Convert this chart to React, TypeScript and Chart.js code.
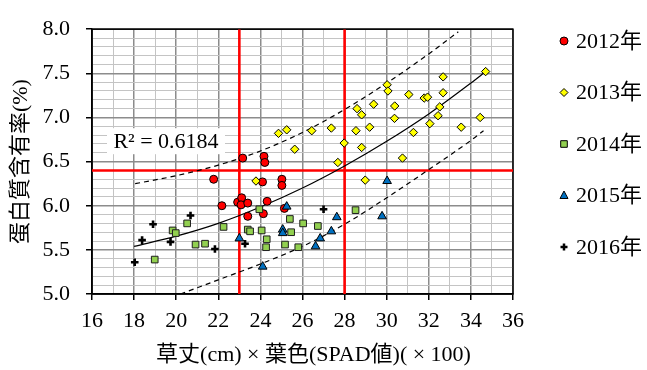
import React, { useEffect, useRef } from 'react';
import { Chart, registerables } from 'chart.js';

Chart.register(...registerables);

const FONT = "'Liberation Serif', 'Times New Roman', 'Noto Sans CJK JP', serif";
const FONT_SIZE = 22;

const seriesLabels = ['2012年', '2013年', '2014年', '2015年', '2016年'];

const x2012 = [23.16, 24.17, 24.21, 21.78, 24.10, 25.02, 25.02, 22.17, 22.92, 23.11, 23.08, 23.40, 24.32, 23.40, 24.14, 25.14];
const y2012 = [6.54, 6.56, 6.49, 6.30, 6.27, 6.30, 6.23, 6.00, 6.04, 6.09, 6.01, 6.03, 6.05, 5.88, 5.91, 5.97];

const x2013 = [34.70, 32.68, 30.02, 30.06, 31.05, 32.68, 31.78, 31.94, 29.38, 28.59, 30.38, 28.81, 32.52, 32.44, 30.37, 34.44, 26.44, 27.37, 28.54, 29.19, 32.05, 33.54, 31.27, 27.98, 28.81, 27.68, 30.75, 24.86, 25.25, 25.63, 28.98, 23.79];
const y2013 = [7.52, 7.46, 7.37, 7.30, 7.26, 7.28, 7.22, 7.23, 7.15, 7.10, 7.13, 7.03, 7.12, 7.02, 6.99, 7.00, 6.85, 6.88, 6.85, 6.89, 6.93, 6.89, 6.83, 6.71, 6.66, 6.49, 6.54, 6.82, 6.86, 6.64, 6.29, 6.28];

const x2014 = [18.98, 19.83, 19.98, 20.52, 20.92, 21.37, 22.25, 23.40, 23.51, 23.95, 24.06, 24.30, 24.27, 25.17, 25.40, 25.46, 25.80, 26.03, 26.73, 28.52];
const y2014 = [5.39, 5.72, 5.69, 5.80, 5.56, 5.57, 5.76, 5.73, 5.71, 5.96, 5.72, 5.62, 5.53, 5.56, 5.85, 5.70, 5.53, 5.80, 5.77, 5.95];

const x2015 = [25.25, 25.06, 25.06, 24.11, 23.00, 30.02, 27.63, 29.78, 27.37, 26.84, 26.62];
const y2015 = [5.99, 5.73, 5.69, 5.31, 5.63, 6.28, 5.87, 5.88, 5.71, 5.63, 5.54];

const x2016 = [18.03, 18.38, 18.90, 19.73, 20.68, 21.84, 23.27, 27.00];
const y2016 = [5.36, 5.61, 5.79, 5.59, 5.89, 5.51, 5.57, 5.96];

// fitted curve and prediction band
const trendX = [18, 20, 22, 24, 26, 28, 30, 32, 34, 34.7];
const trendY = [5.54, 5.655, 5.80, 5.985, 6.20, 6.45, 6.73, 7.04, 7.39, 7.52];
const upperX = [18.05, 20, 22, 24, 26, 28, 30, 32, 33.4];
const upperY = [6.25, 6.34, 6.46, 6.62, 6.83, 7.09, 7.39, 7.72, 7.97];
const lowerX = [20.2, 22, 24, 26, 28, 30, 32, 34, 34.6];
const lowerY = [5.0, 5.16, 5.34, 5.54, 5.79, 6.09, 6.41, 6.74, 6.85];

// red reference lines
const refX = [23, 28];
const refY = [6.4];

const xMin = 16, xMax = 36, yMin = 5, yMax = 8;
const r2Text = 'R² = 0.6184';
const xTitle = '\u3000草丈(cm) × 葉色(SPAD値)( × 100)';
const yTitle = '蛋白質含有率(%)';

const pts = (xs: number[], ys: number[]) => xs.map((x, i) => ({ x, y: ys[i] }));

const markerStyles = [
  { shape: 'circle', fill: '#ff0000' },
  { shape: 'diamond', fill: '#ffff00' },
  { shape: 'square', fill: '#92d050' },
  { shape: 'triangle', fill: '#0070c0' },
  { shape: 'plus', fill: '#000000' },
];

function drawMarker(ctx: CanvasRenderingContext2D, shape: string, fill: string, x: number, y: number) {
  ctx.save();
  ctx.fillStyle = fill;
  ctx.strokeStyle = '#000';
  ctx.lineWidth = 1;
  ctx.beginPath();
  if (shape === 'circle') {
    ctx.arc(x, y, 4, 0, Math.PI * 2);
  } else if (shape === 'diamond') {
    ctx.moveTo(x - 4, y); ctx.lineTo(x, y - 4); ctx.lineTo(x + 4, y); ctx.lineTo(x, y + 4); ctx.closePath();
  } else if (shape === 'square') {
    ctx.rect(x - 3.3, y - 3.3, 6.6, 6.6);
  } else if (shape === 'triangle') {
    ctx.moveTo(x, y - 4.5); ctx.lineTo(x + 4, y + 3); ctx.lineTo(x - 4, y + 3); ctx.closePath();
  }
  if (shape === 'plus') {
    ctx.lineWidth = 2.5;
    ctx.moveTo(x - 3.5, y); ctx.lineTo(x + 3.5, y);
    ctx.moveTo(x, y - 3.5); ctx.lineTo(x, y + 3.5);
    ctx.stroke();
  } else {
    ctx.fill();
    ctx.stroke();
  }
  ctx.restore();
}

const framePlugin = {
  id: 'frameAndLabel',
  beforeDatasetsDraw(chart: any) {
    const { ctx, chartArea: a } = chart;
    ctx.save();
    // R² label box
    const bx = a.left + 15, by = a.top + 99, bw = 118, bh = 26;
    ctx.fillStyle = '#fff';
    ctx.fillRect(bx, by, bw, bh);
    ctx.fillStyle = '#000';
    ctx.font = `${FONT_SIZE}px ${FONT}`;
    ctx.textAlign = 'center';
    ctx.textBaseline = 'middle';
    ctx.fillText(r2Text, bx + bw / 2, by + bh / 2 + 1);
    // frame
    ctx.strokeStyle = '#000';
    ctx.lineWidth = 1.5;
    ctx.strokeRect(a.left, a.top, a.right - a.left, a.bottom - a.top);
    ctx.restore();
  },
  afterDraw(chart: any) {
    const { ctx, chartArea: a } = chart;
    ctx.save();
    ctx.font = `${FONT_SIZE}px ${FONT}`;
    ctx.textAlign = 'left';
    ctx.textBaseline = 'middle';
    const mx = a.right + 51;
    seriesLabels.forEach((label, i) => {
      const y = 41 + i * 51.5;
      drawMarker(ctx, markerStyles[i].shape, markerStyles[i].fill, mx, y);
      ctx.fillStyle = '#000';
      ctx.fillText(label, mx + 12, y + 1);
    });
    ctx.restore();
  },
};

const isMajorY = (v: number) => Math.round(v * 10) % 5 === 0;
const isMajorX = (v: number) => Math.round(v) % 2 === 0;

export default function App() {
  const ref = useRef<HTMLCanvasElement | null>(null);

  useEffect(() => {
    if (!ref.current) return;
    const scatterBase = { showLine: false, borderColor: '#000', borderWidth: 1 };
    const lineBase = { showLine: true, pointRadius: 0, fill: false };
    const chart = new Chart(ref.current, {
      type: 'scatter',
      data: {
        datasets: [
          { ...scatterBase, label: seriesLabels[0], data: pts(x2012, y2012), pointStyle: 'circle', pointRadius: 4, backgroundColor: '#ff0000', order: 5 },
          { ...scatterBase, label: seriesLabels[1], data: pts(x2013, y2013), pointStyle: 'rectRot', pointRadius: 4.2, backgroundColor: '#ffff00', order: 4 },
          { ...scatterBase, label: seriesLabels[2], data: pts(x2014, y2014), pointStyle: 'rect', pointRadius: 4.7, backgroundColor: '#92d050', borderColor: '#1e1e1e', order: 3 },
          { ...scatterBase, label: seriesLabels[3], data: pts(x2015, y2015), pointStyle: 'triangle', pointRadius: 5, backgroundColor: '#0070c0', order: 2 },
          { ...scatterBase, label: seriesLabels[4], data: pts(x2016, y2016), pointStyle: 'cross', pointRadius: 3.8, borderWidth: 2.6, backgroundColor: '#000', order: 1 },
          { ...lineBase, label: 'trend', data: pts(trendX, trendY), borderColor: '#000', borderWidth: 1.2, cubicInterpolationMode: 'monotone', order: 10 },
          { ...lineBase, label: 'upper', data: pts(upperX, upperY), borderColor: '#000', borderWidth: 1.2, borderDash: [5, 4], cubicInterpolationMode: 'monotone', order: 10 },
          { ...lineBase, label: 'lower', data: pts(lowerX, lowerY), borderColor: '#000', borderWidth: 1.2, borderDash: [5, 4], cubicInterpolationMode: 'monotone', order: 10 },
          ...refX.map((v) => ({ ...lineBase, label: 'refx', data: [{ x: v, y: yMin }, { x: v, y: yMax }], borderColor: '#ff0000', borderWidth: 2.6, order: 11 })),
          ...refY.map((v) => ({ ...lineBase, label: 'refy', data: [{ x: xMin, y: v }, { x: xMax, y: v }], borderColor: '#ff0000', borderWidth: 2.6, order: 11 })),
        ] as any,
      },
      options: {
        responsive: false,
        animation: false,
        events: [],
        layout: { padding: { left: 0, right: 134, top: 13, bottom: 0 } },
        plugins: { legend: { display: false }, tooltip: { enabled: false } },
        scales: {
          x: {
            type: 'linear',
            min: xMin,
            max: xMax,
            afterFit: (s: any) => { s.height = 76; },
            ticks: {
              stepSize: 1,
              autoSkip: false,
              maxRotation: 0,
              padding: 8,
              color: '#000',
              font: { family: FONT, size: FONT_SIZE },
              callback: (v: any) => (isMajorX(Number(v)) ? String(Math.round(Number(v))) : ''),
            },
            grid: {
              color: (c: any) => (c.tick && isMajorX(c.tick.value) ? '#8c8c8c' : '#c4c4c4'),
              lineWidth: (c: any) => (c.tick && isMajorX(c.tick.value) ? 1.5 : 1),
              tickColor: (c: any) => (c.tick && isMajorX(c.tick.value) ? '#000' : 'rgba(0,0,0,0)'),
              tickLength: 6,
              tickWidth: 1.5,
            },
            border: { color: '#000', width: 1.5 },
            title: { display: true, text: xTitle, color: '#000', font: { family: FONT, size: FONT_SIZE }, padding: { top: 0, bottom: 2 } },
          },
          y: {
            type: 'linear',
            min: yMin,
            max: yMax,
            afterFit: (s: any) => { s.width = 92; },
            ticks: {
              stepSize: 0.1,
              autoSkip: false,
              padding: 16,
              color: '#000',
              font: { family: FONT, size: FONT_SIZE },
              callback: (v: any) => (isMajorY(Number(v)) ? (Math.round(Number(v) * 10) / 10).toFixed(1) : ''),
            },
            grid: {
              color: (c: any) => (c.tick && isMajorY(c.tick.value) ? '#8c8c8c' : '#c4c4c4'),
              lineWidth: (c: any) => (c.tick && isMajorY(c.tick.value) ? 1.5 : 1),
              tickColor: (c: any) => (c.tick && isMajorY(c.tick.value) ? '#000' : 'rgba(0,0,0,0)'),
              tickLength: 6,
              tickWidth: 1.5,
            },
            border: { color: '#000', width: 1.5 },
            title: { display: true, text: yTitle, color: '#000', font: { family: FONT, size: FONT_SIZE }, padding: { top: 8.5, bottom: 0 } },
          },
        },
      } as any,
      plugins: [framePlugin],
    });
    return () => chart.destroy();
  }, []);

  return (
    <div style={{ position: 'absolute', left: 0, top: 0, width: 647, height: 370, background: '#fff' }}>
      <canvas ref={ref} width={647} height={370} />
    </div>
  );
}
